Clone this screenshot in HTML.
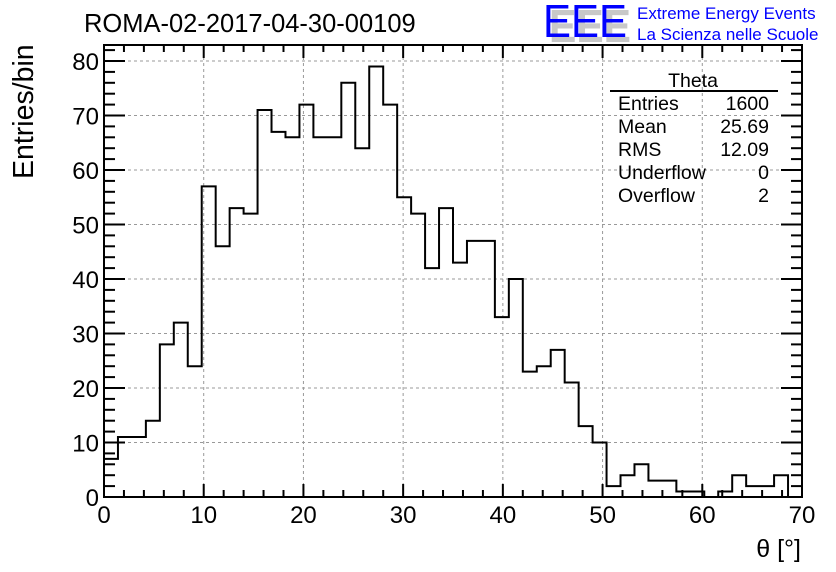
<!DOCTYPE html>
<html><head><meta charset="utf-8"><style>
body{margin:0;background:#fff;}
svg{display:block;font-family:"Liberation Sans",sans-serif;}
</style></head><body>
<svg id="chart" width="836" height="572" viewBox="0 0 836 572" xmlns="http://www.w3.org/2000/svg">
<rect width="836" height="572" fill="#fff"/>
<text x="84" y="32" font-size="25.5">ROMA-02-2017-04-30-00109</text>
<g>
<text x="549" y="42" font-size="46" fill="#c8c8c8" font-weight="bold" textLength="82" lengthAdjust="spacingAndGlyphs">EEE</text>
<text x="543" y="37" font-size="46" fill="#0000ff" textLength="84" lengthAdjust="spacingAndGlyphs">EEE</text>
<text x="637" y="19" font-size="17" fill="#0000ff">Extreme Energy Events</text>
<text x="637" y="40" font-size="17" fill="#0000ff">La Scienza nelle Scuole</text>
</g>
<g id="grid"></g>
<g id="axes"></g>
<path id="hist" fill="none" stroke="#000" stroke-width="2"/>
<rect x="104" y="45" width="698" height="452" fill="none" stroke="#000" stroke-width="2"/>
<g font-size="19.5">
<text x="693" y="87" text-anchor="middle">Theta</text>
<line x1="610" y1="91" x2="778" y2="91" stroke="#000" stroke-width="2"/>
<text x="618" y="110">Entries</text><text x="769" y="110" text-anchor="end">1600</text>
<text x="618" y="133">Mean</text><text x="769" y="133" text-anchor="end">25.69</text>
<text x="618" y="156">RMS</text><text x="769" y="156" text-anchor="end">12.09</text>
<text x="618" y="179">Underflow</text><text x="769" y="179" text-anchor="end">0</text>
<text x="618" y="202">Overflow</text><text x="769" y="202" text-anchor="end">2</text>
</g>
<text transform="translate(33,179) rotate(-90)" font-size="28.5">Entries/bin</text>
<text x="801" y="557" text-anchor="end" font-size="25">θ [°]</text>
</svg>
<script>
const binWidth = 1.4;
const counts = [7,11,11,14,28,32,24,57,46,53,52,71,67,66,72,66,66,76,64,79,72,55,52,42,53,43,47,47,33,40,23,24,27,21,13,10,2,4,6,3,3,1,1,0,1,4,2,2,4,0];
const xTicks = [0,10,20,30,40,50,60,70];
const yTicks = [0,10,20,30,40,50,60,70,80];
const X0=104,X1=802,Y0=497,Y1=45;
const sx=v=>X0+(v-0)/70*(X1-X0);
const sy=v=>Y0-v*(Y0-61)/80;
const NS="http://www.w3.org/2000/svg";
const grid=document.getElementById('grid'), axes=document.getElementById('axes');
function mk(tag,attrs,parent){const e=document.createElementNS(NS,tag);for(const k in attrs)e.setAttribute(k,attrs[k]);parent.appendChild(e);return e;}
xTicks.forEach(t=>{
  const x=sx(t);
  if(t>0&&t<70){const g=mk('line',{x1:x,x2:x,y1:Y1,y2:Y0,stroke:'#999','stroke-dasharray':'3,3'},grid);
  
  }
  const l=mk('text',{x:x,y:523,'font-size':24,'text-anchor':'middle'},axes);l.textContent=t;
  
  
});
yTicks.forEach(t=>{
  const y=sy(t);
  if(t>0){const g=mk('line',{x1:X0,x2:X1,y1:y,y2:y,stroke:'#999','stroke-dasharray':'3,3'},grid);
  
  }
  const l=mk('text',{x:99,y:y+9,'font-size':24,'text-anchor':'end'},axes);l.textContent=t;
  
  
});
for(let v=0;v<=70;v+=2){const x=sx(v),L=(v%10===0)?13:7;
  mk('line',{x1:x,x2:x,y1:Y0,y2:Y0-L,stroke:'#000','stroke-width':2},axes);
  mk('line',{x1:x,x2:x,y1:Y1,y2:Y1+L,stroke:'#000','stroke-width':2},axes);}
for(let v=0;v<=82;v+=2){const y=sy(v),L=(v%10===0)?21:11;if(y<Y1)continue;
  mk('line',{x1:X0,x2:X0+L,y1:y,y2:y,stroke:'#000','stroke-width':2},axes);
  mk('line',{x1:X1,x2:X1-L,y1:y,y2:y,stroke:'#000','stroke-width':2},axes);}
let d='';
counts.forEach((c,i)=>{const xa=sx(i*binWidth),xb=sx((i+1)*binWidth),y=sy(c);
  d+=(i===0?'M'+xa+','+y:'L'+xa+','+y)+'L'+xb+','+y;});
document.getElementById('hist').setAttribute('d',d);
</script>
</body></html>
